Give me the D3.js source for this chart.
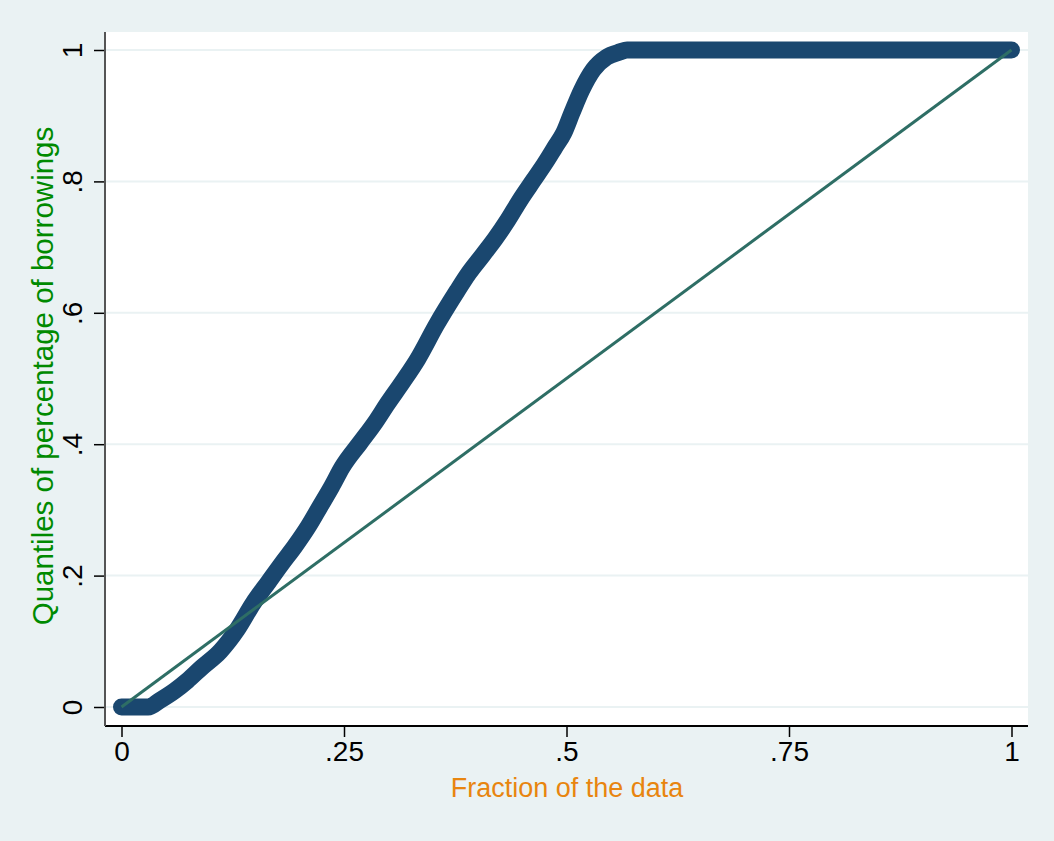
<!DOCTYPE html>
<html>
<head>
<meta charset="utf-8">
<script src="https://cdn.jsdelivr.net/npm/d3@7"></script>
<style>
  body { margin: 0; background: #eaf2f3; }
  svg { display: block; }
  text { font-family: "Liberation Sans", Arial, sans-serif; }
</style>
</head>
<body>
<div id="chart"></div>
<script>
// fraction of the data (x) and quantile values (y)
const fractions = [0, 0.01, 0.02, 0.03, 0.043, 0.06, 0.074, 0.09, 0.111, 0.13, 0.148, 0.165, 0.18, 0.195, 0.21, 0.223, 0.236, 0.248, 0.268, 0.285, 0.298, 0.316, 0.333, 0.354, 0.377, 0.39, 0.406, 0.42, 0.434, 0.448, 0.463, 0.476, 0.487, 0.497, 0.506, 0.517, 0.53, 0.545, 0.56, 0.568, 0.6, 0.7, 0.8, 0.9, 1];
const quantiles = [0, 0, 0, 0, 0.01, 0.025, 0.04, 0.06, 0.085, 0.118, 0.158, 0.19, 0.218, 0.245, 0.275, 0.305, 0.335, 0.365, 0.402, 0.433, 0.46, 0.495, 0.53, 0.582, 0.633, 0.66, 0.688, 0.713, 0.741, 0.772, 0.802, 0.828, 0.852, 0.874, 0.904, 0.939, 0.970, 0.989, 0.997, 1, 1, 1, 1, 1, 1];
const xTicks = [0, 0.25, 0.5, 0.75, 1];
const xTickLabels = ['0', '.25', '.5', '.75', '1'];
const yTicks = [0, 0.2, 0.4, 0.6, 0.8, 1];
const yTickLabels = ['0', '.2', '.4', '.6', '.8', '1'];

const width = 1054, height = 841;
const plot = { left: 105, right: 1028, top: 32, bottom: 726 };

const svg = d3.select('#chart')
    .append('svg')
    .attr('width', width)
    .attr('height', height);

svg.append('rect')
    .attr('width', width)
    .attr('height', height)
    .attr('fill', '#eaf2f3');

svg.append('rect')
    .attr('x', plot.left)
    .attr('y', plot.top)
    .attr('width', plot.right - plot.left)
    .attr('height', plot.bottom - plot.top)
    .attr('fill', '#ffffff');

const x = d3.scaleLinear().domain([0, 1]).range([121.5, 1011.5]);
const y = d3.scaleLinear().domain([0, 1]).range([707, 50]);

// gridlines
svg.selectAll('.grid')
    .data(yTicks)
    .enter()
    .append('line')
    .attr('class', 'grid')
    .attr('x1', plot.left)
    .attr('x2', plot.right)
    .attr('y1', d => y(d))
    .attr('y2', d => y(d))
    .attr('stroke', '#eaf2f3')
    .attr('stroke-width', 2);

// quantile curve (thick marker trail)
const data = fractions.map((f, i) => ({ f, q: quantiles[i] }));
const line = d3.line()
    .x(d => x(d.f))
    .y(d => y(d.q))
    .curve(d3.curveMonotoneX);

svg.append('path')
    .datum(data)
    .attr('d', line)
    .attr('fill', 'none')
    .attr('stroke', '#1a476f')
    .attr('stroke-width', 17)
    .attr('stroke-linecap', 'round')
    .attr('stroke-linejoin', 'round');

// reference line
svg.append('path')
    .datum([{ f: 0, q: 0 }, { f: 1, q: 1 }])
    .attr('d', d3.line().x(d => x(d.f)).y(d => y(d.q)))
    .attr('stroke', '#2e6e65')
    .attr('stroke-width', 3)
    .attr('fill', 'none');

// axes
const xAxis = d3.axisBottom(x)
    .tickValues(xTicks)
    .tickFormat((d, i) => xTickLabels[i])
    .tickSize(11)
    .tickPadding(4)
    .tickSizeOuter(0);

const gx = svg.append('g')
    .attr('transform', `translate(0,${plot.bottom})`)
    .call(xAxis);
gx.select('.domain').remove();
gx.append('line')
    .attr('x1', plot.left)
    .attr('x2', plot.right)
    .attr('stroke', '#000')
    .attr('stroke-width', 2);
gx.selectAll('.tick line').attr('stroke', '#000').attr('stroke-width', 1.5);
gx.selectAll('.tick text')
    .attr('font-size', 28)
    .attr('fill', '#000')
    .attr('font-family', '"Liberation Sans", Arial, sans-serif');

const yAxis = d3.axisLeft(y)
    .tickValues(yTicks)
    .tickFormat((d, i) => yTickLabels[i])
    .tickSize(11)
    .tickSizeOuter(0);

const gy = svg.append('g')
    .attr('transform', `translate(${plot.left},0)`)
    .call(yAxis);
gy.select('.domain').remove();
gy.append('line')
    .attr('y1', plot.top)
    .attr('y2', plot.bottom)
    .attr('stroke', '#555')
    .attr('stroke-width', 2);
gy.selectAll('.tick line').attr('stroke', '#000').attr('stroke-width', 1.5);
gy.selectAll('.tick text')
    .attr('x', null)
    .attr('dy', null)
    .attr('transform', 'translate(-23,0) rotate(-90)')
    .attr('text-anchor', 'middle')
    .attr('font-size', 28)
    .attr('fill', '#000')
    .attr('font-family', '"Liberation Sans", Arial, sans-serif');

// axis titles
svg.append('text')
    .attr('x', 567)
    .attr('y', 797)
    .attr('text-anchor', 'middle')
    .attr('font-size', 27)
    .attr('fill', '#e8850f')
    .text('Fraction of the data');

svg.append('text')
    .attr('transform', 'translate(53,376) rotate(-90)')
    .attr('text-anchor', 'middle')
    .attr('font-size', 29.5)
    .attr('fill', '#008a00')
    .text('Quantiles of percentage of borrowings');
</script>
</body>
</html>
